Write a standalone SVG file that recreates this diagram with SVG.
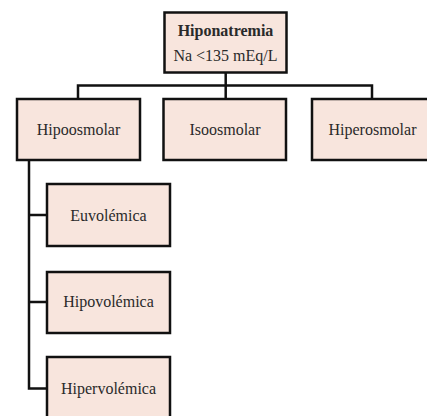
<svg xmlns="http://www.w3.org/2000/svg" width="427" height="416" viewBox="0 0 427 416">
<style>
.box{fill:#f8e5dd;stroke:#111;stroke-width:2.5}
.t{font-family:"Liberation Serif","Times New Roman",serif;font-size:16px;fill:#2a2a2a;text-anchor:middle}
.b{font-weight:bold}
.c{fill:none;stroke:#111;stroke-width:2.5}
</style>
<rect width="427" height="416" fill="#fff"/>
<g id="connectors">
<path class="c" d="M225.7 73V85.5M78 99V85.5H372V99M225.7 85.5V99"/>
<path class="c" d="M29 160V388.5H47M29 215H47M29 302H47"/>
</g>
<g id="hiponatremia">
<rect class="box" x="164.5" y="12.5" width="122" height="60"/>
<text class="t b" x="225.5" y="36">Hiponatremia</text>
<text class="t" x="225.5" y="61">Na &lt;135 mEq/L</text>
</g>
<g id="hipoosmolar">
<rect class="box" x="17" y="99" width="123" height="61"/>
<text class="t" x="78.5" y="135">Hipoosmolar</text>
</g>
<g id="isoosmolar">
<rect class="box" x="163.5" y="99" width="122.5" height="61"/>
<text class="t" x="225" y="135">Isoosmolar</text>
</g>
<g id="hiperosmolar">
<rect class="box" x="312" y="99" width="120" height="61"/>
<text class="t" x="372.5" y="135">Hiperosmolar</text>
</g>
<g id="euvolemica">
<rect class="box" x="47" y="184" width="123" height="62"/>
<text class="t" x="108.5" y="221">Euvolémica</text>
</g>
<g id="hipovolemica">
<rect class="box" x="47" y="272" width="123" height="61"/>
<text class="t" x="108.5" y="307">Hipovolémica</text>
</g>
<g id="hipervolemica">
<rect class="box" x="47" y="357" width="123" height="70"/>
<text class="t" x="108.5" y="394">Hipervolémica</text>
</g>
</svg>
